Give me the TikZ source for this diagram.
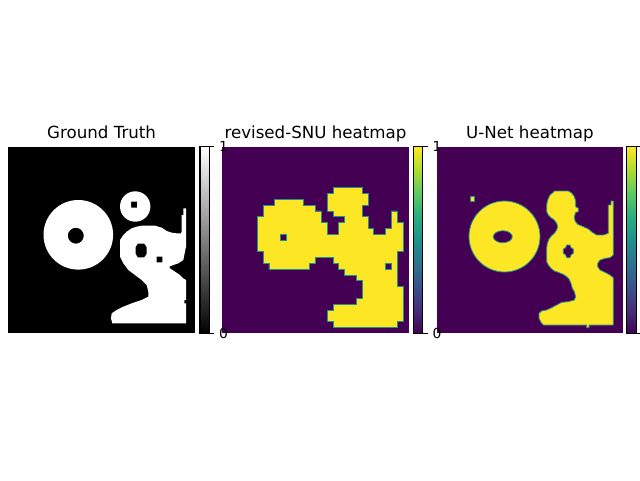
\documentclass[tikz,border=0pt]{standalone}
\usepackage{fontspec}
\setmainfont{DejaVu Sans}
\definecolor{vpur}{HTML}{440154}
\definecolor{vyel}{HTML}{FDE725}
\definecolor{vteal}{HTML}{21918C}
\definecolor{va}{HTML}{440154}
\definecolor{vb}{HTML}{472D7B}
\definecolor{vc}{HTML}{3B528B}
\definecolor{vd}{HTML}{2C728E}
\definecolor{ve}{HTML}{21918C}
\definecolor{vf}{HTML}{28AE80}
\definecolor{vg}{HTML}{5EC962}
\definecolor{vh}{HTML}{ADDC30}
\definecolor{vi}{HTML}{FDE725}
\begin{document}
\begin{tikzpicture}[x=1pt,y=-1pt,
  titletext/.style={font=\fontsize{16.67}{20}\selectfont, anchor=base, inner sep=0pt},
  ticklab/.style={font=\fontsize{13.89}{16}\selectfont, anchor=west, inner sep=0pt},
  heat/.style={fill=vyel, draw=vteal, line width=0.8pt, even odd rule},
  gtshape/.style={fill=white, even odd rule},
  cbframe/.style={draw=black, line width=1.11pt},
  tickmark/.style={draw=black, line width=1.11pt}]
\useasboundingbox[fill=white] (0,0) rectangle (640,480);

% ---------- panel 1: Ground Truth ----------
\fill[black] (8.4,146.9) rectangle (194.9,333.3);
\fill[gtshape] (78.3,234.8) circle[radius=34.8pt] (75.8,235.7) circle[radius=8pt];
\fill[gtshape] (135.2,206.5) circle[radius=15.2pt] (131,201.5) rectangle (137,207.5);
\begin{scope}[shift={(105,185)}, scale=1/3]
\fill[gtshape] (45,165) -- (55,150) -- (65,140) -- (80,130) -- (95,125) -- (110,122) -- (150,122)
  -- (170,128) -- (185,138) -- (200,143) -- (215,145) -- (228,145) -- (230,140) -- (230,90)
  -- (235,90) -- (235,70) -- (243,70) -- (243,185) -- (235,225) -- (220,235) -- (205,240)
  -- (193,245) -- (195,250) -- (210,260) -- (225,270) -- (235,280) -- (243,285) -- (243,345)
  -- (238,345) -- (238,355) -- (243,355) -- (243,415) -- (22,415) -- (18,400) -- (20,385)
  -- (35,375) -- (55,365) -- (80,355) -- (110,345) -- (130,335) -- (130,320) -- (125,300)
  -- (110,285) -- (90,270) -- (70,255) -- (55,235) -- (45,215) -- cycle
  (98,176) -- (118,176) -- (125,186) -- (125,207) -- (118,217) -- (98,217) -- (92,207) -- (92,186) -- cycle
  (155,215) rectangle (172,232);
\end{scope}

% ---------- panel 2: revised-SNU ----------
\fill[vpur] (222.3,146.9) rectangle (408.8,333.3);
\begin{scope}[shift={(222.3,146.9)}, x=5.828pt, y=-5.825pt]
\path[heat] (9,9) -- (14,9) -- (14,10) -- (16,10) -- (16,11) -- (17,11) -- (17,13) -- (18,13)
  -- (18,15) -- (20,15) -- (20,13) -- (21,13) -- (21,12) -- (19,12) -- (19,11) -- (18,11)
  -- (18,8) -- (19,8) -- (19,7) -- (24,7) -- (24,8) -- (25,8) -- (25,10) -- (24,10) -- (24,12)
  -- (25,12) -- (25,14) -- (26,14) -- (26,15) -- (28,15) -- (28,14) -- (29,14) -- (29,11)
  -- (30,11) -- (30,13) -- (31,13) -- (31,18) -- (30,18) -- (30,24) -- (31,24) -- (31,30)
  -- (30,30) -- (30,31) -- (19,31) -- (19,30) -- (18,30) -- (18,28) -- (19,28) -- (19,27)
  -- (23,27) -- (23,26) -- (24,26) -- (24,23) -- (23,23) -- (23,22) -- (21,22) -- (21,21)
  -- (20,21) -- (20,20) -- (19,20) -- (19,19) -- (16,19) -- (16,20) -- (15,20) -- (15,21)
  -- (8,21) -- (8,20) -- (7,20) -- (7,18) -- (6,18) -- (6,12) -- (7,12) -- (7,10) -- (9,10) -- cycle
  (10,15) rectangle (11,16)
  (28,20) rectangle (29,21);
\end{scope}

% ---------- panel 3: U-Net ----------
\fill[vpur] (436.6,146.9) rectangle (623.1,333.3);
\path[heat] (504.5,236.5) circle[radius=35.5pt] (502.8,236.7) ellipse[x radius=9.5pt, y radius=6pt];
\path[heat] (470.7,196.7) rectangle (474.3,201.7);
\begin{scope}[shift={(535,185)}, scale=1/3]
\path[heat] (58,18) -- (100,18) -- (110,24) -- (118,35) -- (122,48) -- (122,65) -- (130,70)
  -- (130,80) -- (122,82) -- (118,95) -- (120,108) -- (128,118) -- (145,125) -- (160,132)
  -- (172,142) -- (185,150) -- (205,150) -- (220,145) -- (220,60) -- (228,60) -- (228,48)
  -- (235,48) -- (235,210) -- (225,218) -- (210,220) -- (195,225) -- (188,235) -- (188,245)
  -- (195,255) -- (210,262) -- (225,270) -- (235,278) -- (235,420) -- (162,420) -- (162,428)
  -- (155,428) -- (155,420) -- (25,420) -- (18,412) -- (12,400) -- (12,385) -- (20,378)
  -- (35,375) -- (50,368) -- (65,360) -- (80,352) -- (100,350) -- (118,345) -- (122,335)
  -- (118,320) -- (112,310) -- (108,295) -- (102,282) -- (95,275) -- (85,268) -- (70,262)
  -- (58,258) -- (48,250) -- (40,240) -- (35,230) -- (35,190) -- (37,175) -- (42,162)
  -- (50,152) -- (58,145) -- (65,135) -- (68,125) -- (65,115) -- (58,105) -- (48,98)
  -- (40,90) -- (35,80) -- (35,60) -- (38,45) -- (45,30) -- (55,22) -- cycle
  (95,180) -- (105,180) -- (108,188) -- (115,192) -- (115,205) -- (108,210) -- (105,218)
  -- (95,218) -- (92,210) -- (85,205) -- (85,192) -- (92,188) -- cycle;
\end{scope}

% ---------- colorbars ----------
\shade[top color=white, bottom color=black] (200,146.9) rectangle (209.3,333.3);
\draw[cbframe] (200,146.9) rectangle (209.3,333.3);
\foreach \cx in {413.4,626.8}{
  \foreach \i/\ca/\cb in {0/va/vb,1/vb/vc,2/vc/vd,3/vd/ve,4/ve/vf,5/vf/vg,6/vg/vh,7/vh/vi}{
    \shade[bottom color=\ca, top color=\cb] (\cx,{333.3-\i*23.3}) rectangle ({\cx+9.3},{333.3-(\i+1)*23.3});
  }
  \draw[cbframe] (\cx,146.9) rectangle ({\cx+9.3},333.3);
}
\foreach \cx in {209.3,422.7,636.1}{
  \draw[tickmark] (\cx,146.9) -- ({\cx+4.86},146.9);
  \draw[tickmark] (\cx,333.3) -- ({\cx+4.86},333.3);
}
\node[ticklab] (oneA) at (219.0,146.9) {1};
\node[ticklab] (zeroA) at (219.0,333.3) {0};
\node[ticklab] (oneB) at (432.4,146.9) {1};
\node[ticklab] (zeroB) at (432.4,333.3) {0};

% ---------- titles ----------
\node[titletext] (t1) at (101.6,138.4) {Ground Truth};
\node[titletext] (t2) at (315.5,138.4) {revised-SNU heatmap};
\node[titletext] (t3) at (529.9,138.4) {U-Net heatmap};
\end{tikzpicture}
\end{document}
